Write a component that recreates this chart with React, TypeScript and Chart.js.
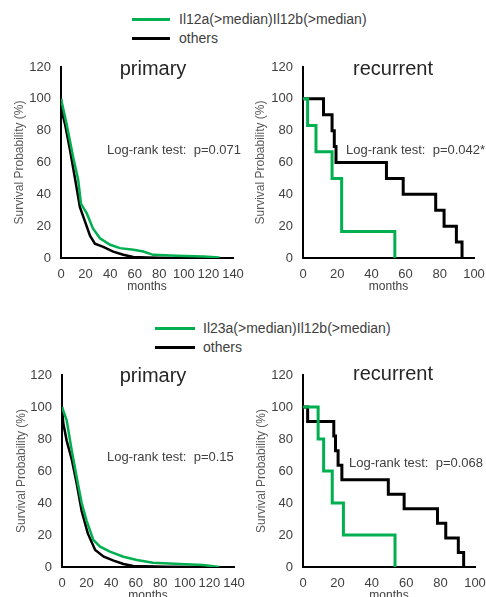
import React, { useEffect, useRef } from "react";
import { Chart, registerables } from "chart.js";

Chart.register(...registerables);

const FONT = "'Liberation Sans', Arial, sans-serif";
const GREEN = "#00b050";
const BLACK = "#000000";

// ---- text ----
const legendTopLabel = "Il12a(>median)Il12b(>median)";
const legendBottomLabel = "Il23a(>median)Il12b(>median)";
const othersLabel = "others";
const yTitle = "Survival Probability (%)";
const xTitle = "months";
const primaryTitle = "primary";
const recurrentTitle = "recurrent";
const pTopPrimary = "Log-rank test:  p=0.071";
const pTopRecurrent = "Log-rank test:  p=0.042*";
const pBottomPrimary = "Log-rank test:  p=0.15";
const pBottomRecurrent = "Log-rank test:  p=0.068";

// ---- ticks ----
const yTickValues = [0, 20, 40, 60, 80, 100, 120];
const primaryXTicks = [0, 20, 40, 60, 80, 100, 120, 140];
const recurrentXTicks = [0, 20, 40, 60, 80, 100];

// ---- top row: Il12a/Il12b ----
const topPrimaryGreenT = [0, 4.6, 10, 14, 16.3, 21, 26, 31.7, 40, 48, 59, 67, 75, 94, 116, 128, 128];
const topPrimaryGreenS = [100, 84, 63, 49, 34, 28, 18.6, 12.4, 8.3, 6.2, 5.2, 4.1, 2, 1.4, 1, 0.4, 0];
const topPrimaryBlackT = [0, 1, 3.3, 7.3, 11.4, 15.4, 19.5, 23.6, 27.6, 34.4, 42.5, 50.7, 58.8, 70, 90];
const topPrimaryBlackS = [100, 91, 84, 68, 50, 32, 23, 14, 9, 7, 4, 2, 0.6, 0.3, 0];

const topRecGreenT = [0, 2.7, 7.6, 17, 22.6, 53.7];
const topRecGreenS = [100, 83.3, 66.7, 50, 16.7, 0];
const topRecBlackT = [0, 12, 17, 18.3, 19.3, 48.8, 58.6, 77.6, 82.5, 89.7, 93];
const topRecBlackS = [100, 90, 80, 70, 60, 50, 40, 30, 20, 10, 0];

// ---- bottom row: Il23a/Il12b ----
const botPrimaryGreenT = [0, 3.8, 7.9, 12, 16, 20, 25.5, 31, 39, 50, 61, 74, 96, 115, 128];
const botPrimaryGreenS = [100, 91.7, 73, 56, 40, 29, 17, 12.7, 9.6, 6.4, 4.4, 2.7, 1.9, 1.2, 0];
const botPrimaryBlackT = [0, 1, 3.8, 8, 12, 16, 21, 27, 34, 42, 50, 58, 85, 115];
const botPrimaryBlackS = [100, 90, 79, 67, 52, 35, 21, 10.6, 6.4, 4, 1.9, 0.6, 0.2, 0];

const botRecGreenT = [0, 8.8, 12, 17, 23.5, 53.5];
const botRecGreenS = [100, 80, 60, 40, 20, 0];
const botRecBlackT = [0, 2.7, 17.9, 18.9, 20.4, 22.6, 49.6, 58.8, 78.2, 83, 90.3, 93.4];
const botRecBlackS = [100, 90.9, 81.8, 72.7, 63.6, 54.5, 45.5, 36.4, 27.3, 18.2, 9.1, 0];

const toPoints = (t: number[], s: number[]) => t.map((x, i) => ({ x, y: s[i] }));

type Box = { left: number; top: number; width: number; height: number };
type Area = { left: number; right: number; top: number; bottom: number };
type TextItem = { text: string; x: number; y: number; size: number; align: CanvasTextAlign; color: string };

type PanelProps = {
  box: Box;
  area: Area;
  xMax: number;
  xTicks: number[];
  green: { x: number; y: number }[];
  black: { x: number; y: number }[];
  stepped: boolean;
  lineWidth: number;
  yTitleX: number;
  texts: TextItem[];
};

const textPlugin = {
  id: "panelText",
  afterDraw(chart: any, _args: any, opts: any) {
    const ctx = chart.ctx as CanvasRenderingContext2D;
    ctx.save();
    (opts.items || []).forEach((it: TextItem) => {
      ctx.font = `${it.size}px ${FONT}`;
      ctx.fillStyle = it.color;
      ctx.textAlign = it.align;
      ctx.textBaseline = "middle";
      ctx.fillText(it.text, it.x, it.y);
    });
    ctx.restore();
  },
};

function Panel(p: PanelProps) {
  const ref = useRef<HTMLCanvasElement | null>(null);
  useEffect(() => {
    if (!ref.current) return;
    const padding = {
      left: 0,
      top: p.area.top - p.box.top,
      right: p.box.left + p.box.width - p.area.right,
      bottom: 0,
    };
    const yWidth = p.area.left - p.box.left;
    const xHeight = p.box.top + p.box.height - p.area.bottom;
    const items = p.texts.map((t) => ({ ...t, x: t.x - p.box.left, y: t.y - p.box.top }));
    const chart = new Chart(ref.current, {
      type: "line",
      data: {
        datasets: [
          {
            data: p.green,
            borderColor: GREEN,
            borderWidth: p.lineWidth,
            pointRadius: 0,
            stepped: p.stepped ? "before" : false,
            tension: 0,
            fill: false,
          },
          {
            data: p.black,
            borderColor: BLACK,
            borderWidth: p.lineWidth,
            pointRadius: 0,
            stepped: p.stepped ? "before" : false,
            tension: 0,
            fill: false,
          },
        ],
      },
      options: {
        responsive: false,
        animation: false,
        devicePixelRatio: 1,
        layout: { padding },
        plugins: {
          legend: { display: false },
          tooltip: { enabled: false },
          panelText: { items },
        } as any,
        scales: {
          x: {
            type: "linear",
            min: 0,
            max: p.xMax,
            afterBuildTicks: (s: any) => {
              s.ticks = p.xTicks.map((v) => ({ value: v }));
            },
            afterFit: (s: any) => {
              s.height = xHeight;
              s.paddingLeft = 0;
              s.paddingRight = 0;
            },
            grid: { display: false, drawTicks: false },
            border: { display: true, color: "#000", width: 2 },
            ticks: {
              padding: 9,
              color: "#404040",
              font: { family: FONT, size: 13 },
              maxRotation: 0,
              autoSkip: false,
            },
            title: {
              display: true,
              text: xTitle,
              color: "#404040",
              font: { family: FONT, size: 12 },
              padding: { top: 0, bottom: 5.8 },
            },
          },
          y: {
            type: "linear",
            min: 0,
            max: 120,
            afterBuildTicks: (s: any) => {
              s.ticks = yTickValues.map((v) => ({ value: v }));
            },
            afterFit: (s: any) => {
              s.width = yWidth;
              s.paddingTop = 0;
              s.paddingBottom = 0;
            },
            grid: { display: false, drawTicks: false },
            border: { display: true, color: "#000", width: 2 },
            ticks: {
              padding: 10,
              color: "#404040",
              font: { family: FONT, size: 13 },
              autoSkip: false,
            },
            title: {
              display: true,
              text: yTitle,
              color: "#595959",
              font: { family: FONT, size: 12 },
              padding: { top: p.yTitleX - p.box.left - 7.2, bottom: 0 },
            },
          },
        },
      } as any,
      plugins: [textPlugin],
    });
    return () => chart.destroy();
  }, []);
  return (
    <canvas
      ref={ref}
      width={p.box.width}
      height={p.box.height}
      style={{
        position: "absolute",
        left: p.box.left,
        top: p.box.top,
        width: p.box.width,
        height: p.box.height,
      }}
    />
  );
}

function Legend(props: { left: number; top: number; lineW: number; gap: number; label: string }) {
  const row = (color: string, text: string, top: number) => (
    <div style={{ position: "absolute", left: props.left, top: top - 10, height: 20, display: "flex", alignItems: "center" }}>
      <div style={{ width: props.lineW, height: 3, background: color }} />
      <div style={{ marginLeft: props.gap, font: `14px ${FONT}`, color: "#404040", whiteSpace: "nowrap", lineHeight: "20px" }}>{text}</div>
    </div>
  );
  return (
    <>
      {row(GREEN, props.label, props.top)}
      {row(BLACK, othersLabel, props.top + 19)}
    </>
  );
}

const titleColor = "#262626";
const noteColor = "#404040";

export default function App() {
  return (
    <div
      style={{
        position: "absolute",
        left: 0,
        top: 0,
        width: 486,
        height: 597,
        overflow: "hidden",
        background: "#fff",
      }}
    >
      <Legend left={132} top={19} lineW={38} gap={9} label={legendTopLabel} />
      <Legend left={155} top={328} lineW={40} gap={8} label={legendBottomLabel} />

      <Panel
        box={{ left: 0, top: 50, width: 250, height: 250 }}
        area={{ left: 61, right: 233, top: 67, bottom: 258 }}
        xMax={140}
        xTicks={primaryXTicks}
        green={toPoints(topPrimaryGreenT, topPrimaryGreenS)}
        black={toPoints(topPrimaryBlackT, topPrimaryBlackS)}
        stepped={false}
        lineWidth={2.5}
        yTitleX={20}
        texts={[
          { text: primaryTitle, x: 153, y: 69, size: 20, align: "center", color: titleColor },
          { text: pTopPrimary, x: 107, y: 150, size: 13, align: "left", color: noteColor },
        ]}
      />
      <Panel
        box={{ left: 243, top: 50, width: 243, height: 250 }}
        area={{ left: 303, right: 474, top: 67, bottom: 258 }}
        xMax={100}
        xTicks={recurrentXTicks}
        green={toPoints(topRecGreenT, topRecGreenS)}
        black={toPoints(topRecBlackT, topRecBlackS)}
        stepped={true}
        lineWidth={3}
        yTitleX={261}
        texts={[
          { text: recurrentTitle, x: 393, y: 69, size: 20, align: "center", color: titleColor },
          { text: pTopRecurrent, x: 346, y: 150, size: 13, align: "left", color: noteColor },
        ]}
      />
      <Panel
        box={{ left: 0, top: 358, width: 250, height: 251 }}
        area={{ left: 62, right: 234, top: 375, bottom: 567 }}
        xMax={140}
        xTicks={primaryXTicks}
        green={toPoints(botPrimaryGreenT, botPrimaryGreenS)}
        black={toPoints(botPrimaryBlackT, botPrimaryBlackS)}
        stepped={false}
        lineWidth={2.5}
        yTitleX={22}
        texts={[
          { text: primaryTitle, x: 153, y: 376, size: 20, align: "center", color: titleColor },
          { text: pBottomPrimary, x: 107, y: 457, size: 13, align: "left", color: noteColor },
        ]}
      />
      <Panel
        box={{ left: 243, top: 358, width: 243, height: 251 }}
        area={{ left: 303, right: 475, top: 375, bottom: 567 }}
        xMax={100}
        xTicks={recurrentXTicks}
        green={toPoints(botRecGreenT, botRecGreenS)}
        black={toPoints(botRecBlackT, botRecBlackS)}
        stepped={true}
        lineWidth={3}
        yTitleX={262}
        texts={[
          { text: recurrentTitle, x: 393, y: 374, size: 20, align: "center", color: titleColor },
          { text: pBottomRecurrent, x: 349, y: 463, size: 13, align: "left", color: noteColor },
        ]}
      />
    </div>
  );
}
